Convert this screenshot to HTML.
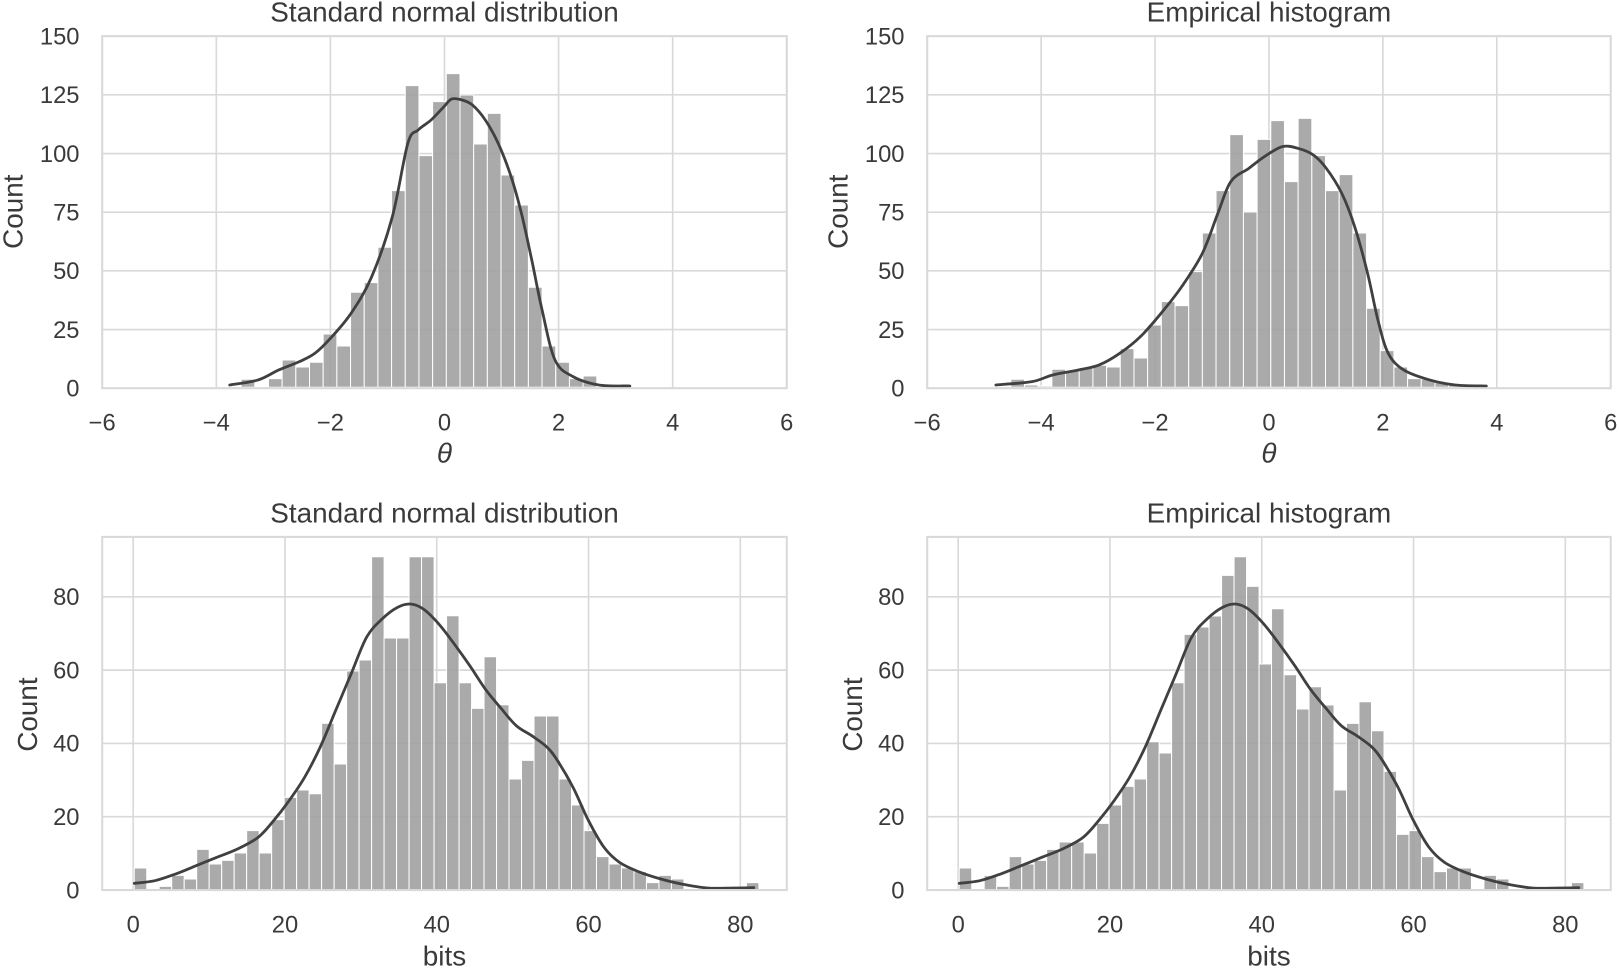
<!DOCTYPE html>
<html><head><meta charset="utf-8"><style>
html,body{margin:0;padding:0;background:#fff;width:1619px;height:968px;overflow:hidden}
svg{display:block}
text{font-family:"Liberation Sans",Arial,sans-serif;fill:#3a3a3a}
</style></head><body>
<svg id="s" width="1619" height="968" viewBox="0 0 1568 937.5" preserveAspectRatio="none" xmlns="http://www.w3.org/2000/svg"></svg>
<script>
const s=document.getElementById('s');let h='';
function smooth(p){let d=`M${p[0][0]},${p[0][1]}`;for(let i=0;i<p.length-1;i++){const p0=p[i-1]||p[i],p1=p[i],p2=p[i+1],p3=p[i+2]||p2;
 const c1=[p1[0]+(p2[0]-p0[0])/6,p1[1]+(p2[1]-p0[1])/6],c2=[p2[0]-(p3[0]-p1[0])/6,p2[1]-(p3[1]-p1[1])/6];
 d+=` C${c1[0]},${c1[1]} ${c2[0]},${c2[1]} ${p2[0]},${p2[1]}`;}return d;}
function panel(o){
 const {x0,x1,y0,y1,xt,yt,title,xl,ital,tx,ty,bars,bw,bx,base,kde,mx,my}=o;
 for(const [v,px] of xt) h+=`<line x1="${px}" y1="${y0}" x2="${px}" y2="${y1}" stroke="#d9d9d9" stroke-width="1.6"/>`;
 for(const [v,py] of yt) h+=`<line x1="${x0}" y1="${py}" x2="${x1}" y2="${py}" stroke="#d9d9d9" stroke-width="1.6"/>`;
 h+=`<g transform="matrix(0.5,0,0,0.3228,${mx},${my})">`;
 bars.forEach((t,i)=>{if(t<base-0.5){const x=bx+i*bw;h+=`<rect x="${x}" y="${t}" width="${bw}" height="${base-t}" fill="#9e9e9e" fill-opacity="0.88" stroke="#fff" stroke-width="1" vector-effect="non-scaling-stroke"/>`;}});
 h+=`<path fill="none" stroke="#404040" stroke-width="2.8" stroke-linejoin="round" stroke-linecap="round" vector-effect="non-scaling-stroke" d="${smooth(kde)}"/></g>`;
 h+=`<rect x="${x0}" y="${y0}" width="${x1-x0}" height="${y1-y0}" fill="none" stroke="#d9d9d9" stroke-width="2"/>`;
 for(const [v,px] of xt) h+=`<text x="${px}" y="${y1+41}" font-size="23" text-anchor="middle">${v}</text>`;
 for(const [v,py] of yt) h+=`<text x="${x0-22}" y="${py+8}" font-size="23" text-anchor="end">${v}</text>`;
 h+=`<text x="${(x0+x1)/2}" y="${y0-14}" font-size="27" text-anchor="middle">${title}</text>`;
 h+=`<text x="${(x0+x1)/2}" y="${y1+(ital?72:73)}" font-size="27" text-anchor="middle" ${ital?'font-style="italic"':''}>${xl}</text>`;
 h+=`<text transform="translate(${tx},${ty}) rotate(-90)" font-size="27" text-anchor="middle">Count</text>`;
}
function thetaTicks(x0,st){const a=[];for(let i=0;i<7;i++){const v=-6+2*i;a.push([v<0?'−'+(-v):''+v,x0+i*st]);}return a;}
const topY=[[0,376],[25,319.2],[50,262.3],[75,205.5],[100,148.7],[125,91.8],[150,35]];
const botY=[[0,862],[20,791],[40,720],[60,649],[80,578]];
function bitsTicks(x0){const a=[];for(let i=0;i<5;i++)a.push([20*i,x0+i*147]);return a;}
panel({x0:99,x1:762,y0:35,y1:376,xt:thetaTicks(99,110.5),yt:topY,title:'Standard normal distribution',xl:'θ',ital:1,tx:22,ty:205,
 bars:[1138,1162,1136,1080,1101,1087,1002,1038,877,848,742,572,257,467,305,221,285,432,340,525,615,862,1038,1087,1136,1128],bw:26.5,bx:467,base:1162,
 kde:[[445,1155],[500,1140],[540,1110],[580,1085],[610,1060],[640,1015],[680,940],[720,830],[760,650],[790,430],[810,390],[835,360],[860,320],[875,297],[895,300],[915,315],[940,360],[965,430],[990,530],[1010,640],[1030,780],[1050,930],[1075,1080],[1110,1130],[1160,1155],[1220,1158]],
 mx:0,my:0});
panel({x0:898,x1:1560,y0:35,y1:376,xt:thetaTicks(898,110.33),yt:topY,title:'Empirical histogram',xl:'θ',ital:1,tx:821,ty:205,
 bars:[1138,1155,1158,1108,1112,1103,1096,1101,1046,1074,975,905,917,815,699,572,404,636,418,362,545,355,467,572,524,699,925,1052,1101,1136,1138,1148,1155],bw:26.5,bx:389,base:1162,
 kde:[[360,1155],[430,1145],[470,1125],[520,1110],[560,1095],[600,1060],[640,1010],[680,940],[720,860],[760,760],[790,640],[815,545],[850,505],[880,470],[915,440],[945,445],[975,465],[1000,505],[1030,580],[1055,680],[1080,820],[1100,960],[1120,1060],[1150,1110],[1200,1140],[1250,1155],[1310,1158]],
 mx:784.5,my:0});
const kb=[[260,1198],[300,1190],[340,1170],[380,1145],[420,1120],[460,1095],[500,1060],[530,1010],[560,950],[590,880],[620,790],[650,680],[680,570],[710,460],[740,405],[770,370],[795,360],[820,375],[850,420],[880,480],[910,545],[940,615],[970,672],[1000,725],[1030,755],[1060,790],[1080,830],[1110,910],[1140,1010],[1170,1090],[1200,1135],[1240,1165],[1280,1185],[1320,1200],[1370,1212],[1420,1212],[1460,1211]];
panel({x0:99,x1:762,y0:520,y1:862,xt:bitsTicks(129),yt:botY,title:'Standard normal distribution',xl:'bits',ital:0,tx:36,ty:692,
 bars:[1152,1218,1207,1174,1185,1096,1140,1129,1107,1040,1107,1007,940,918,929,718,840,561,528,218,462,462,218,218,596,395,596,673,518,662,885,829,696,696,885,963,1040,1118,1140,1152,1163,1196,1174,1185,1218,1218,1218,1218,1218,1196],bw:24.2,bx:260,base:1218,
 kde:kb,mx:0,my:468.8});
panel({x0:898,x1:1560,y0:520,y1:862,xt:bitsTicks(928),yt:botY,title:'Empirical histogram',xl:'bits',ital:0,tx:835,ty:692,
 bars:[1152,1218,1175,1207,1118,1140,1129,1096,1074,1074,1107,1018,963,907,885,773,807,596,451,429,396,274,218,307,540,374,572,675,608,663,918,718,653,740,862,1051,1040,1118,1163,1152,1152,1218,1174,1185,1218,1218,1218,1218,1218,1196],bw:24.2,bx:289,base:1218,
 kde:kb.map(p=>[p[0]+29,p[1]]),mx:784.5,my:468.8});
s.innerHTML=h;
</script>
</body></html>
